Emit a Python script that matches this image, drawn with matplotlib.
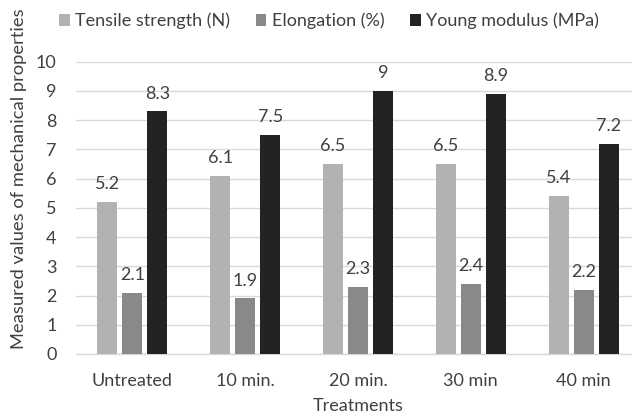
import matplotlib
matplotlib.use("Agg")
import matplotlib.pyplot as plt
import numpy as np

categories = ["Untreated", "10 min.", "20 min.", "30 min", "40 min"]
series_names = ["Tensile strength (N)", "Elongation (%)", "Young modulus (MPa)"]
tensile = [5.2, 6.1, 6.5, 6.5, 5.4]
elongation = [2.1, 1.9, 2.3, 2.4, 2.2]
young = [8.3, 7.5, 9.0, 8.9, 7.2]
label_tensile = ["5.2", "6.1", "6.5", "6.5", "5.4"]
label_elong = ["2.1", "1.9", "2.3", "2.4", "2.2"]
label_young = ["8.3", "7.5", "9", "8.9", "7.2"]
yticks = [0, 1, 2, 3, 4, 5, 6, 7, 8, 9, 10]

colors = ["#b2b2b2", "#898989", "#232323"]
text_color = "#404040"
grid_color = "#d9d9d9"
fs = 13

plt.rcParams['font.family'] = ['Lato', 'DejaVu Sans']

fig = plt.figure(figsize=(6.32, 4.16), dpi=100)
ax = fig.add_axes([76/632, 62/416, 564/632, 292.3/416])

x = np.arange(len(categories))
bw = 0.177
off = 0.222
series = [tensile, elongation, young]
labels = [label_tensile, label_elong, label_young]
for i, (vals, labs) in enumerate(zip(series, labels)):
    pos = x + (i - 1) * off
    ax.bar(pos, vals, width=bw, color=colors[i], label=series_names[i], zorder=3)
    for p, v, l in zip(pos, vals, labs):
        ax.annotate(l, (p, v), xytext=(0, 7), textcoords="offset points",
                    ha="center", va="bottom", fontsize=fs, color=text_color)

ax.set_xlim(-0.5, len(categories) - 0.5)
ax.set_ylim(0, 10)
ax.set_yticks(yticks)
ax.set_yticklabels([str(t) for t in yticks])
ax.set_xticks(x)
ax.set_xticklabels(categories)
ax.tick_params(axis='both', length=0, labelsize=fs, labelcolor=text_color)
ax.tick_params(axis='x', pad=14)
ax.tick_params(axis='y', pad=14)
ax.yaxis.grid(True, color=grid_color, linewidth=1, zorder=0)
ax.set_axisbelow(True)
for s in ["top", "right", "left"]:
    ax.spines[s].set_visible(False)
ax.spines["bottom"].set_color(grid_color)
ax.spines["bottom"].set_linewidth(1)

ax.set_xlabel("Treatments", fontsize=fs, color=text_color, labelpad=6)
fig.text(19/632, 67/416, "Measured values of mechanical properties", rotation=90,
         ha="center", va="bottom", fontsize=13.2, color=text_color)

fig.legend(loc="center", bbox_to_anchor=(329/632, 1 - 21/416), ncol=3, frameon=False,
           fontsize=fs, labelcolor=text_color, handlelength=0.6, handleheight=0.6,
           handletextpad=0.3, columnspacing=1.4)

fig.savefig("out.png", dpi=100)
